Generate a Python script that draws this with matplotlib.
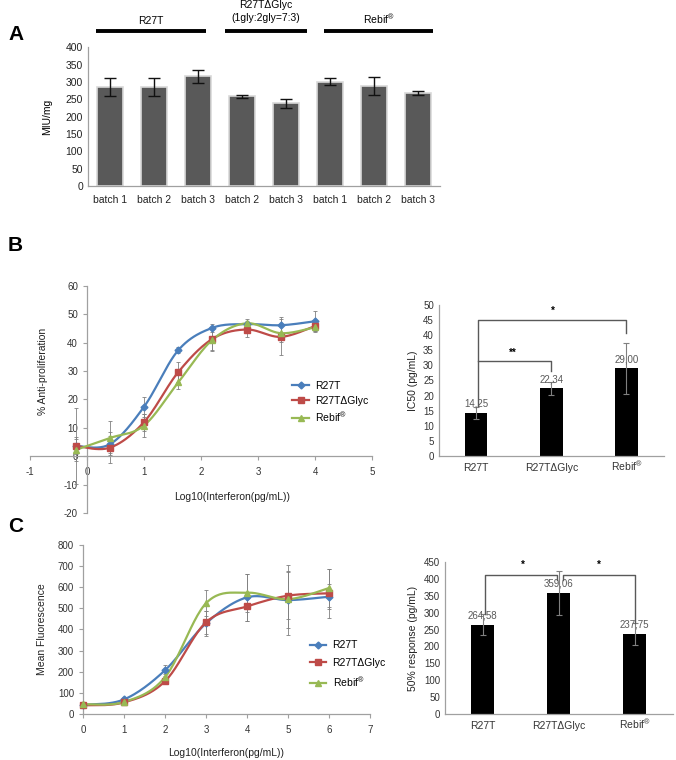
import numpy as np
import matplotlib
matplotlib.use("Agg")
import matplotlib.pyplot as plt
from matplotlib.lines import Line2D
import matplotlib.transforms as mtransforms

plt.rcParams['font.family'] = ['Liberation Sans', 'DejaVu Sans']
plt.rcParams['mathtext.fontset'] = 'custom'
plt.rcParams['mathtext.rm'] = 'Liberation Sans'
plt.rcParams['mathtext.it'] = 'Liberation Sans'
plt.rcParams['axes.unicode_minus'] = False

# ---------------- data ----------------
# Panel A
batch_labels = ["batch 1", "batch 2", "batch 3", "batch 2", "batch 3", "batch 1", "batch 2", "batch 3"]
miu_values = [285, 286, 316, 258, 238, 301, 288, 267]
miu_err = [26, 26, 19, 5, 13, 11, 25, 6]
group_names = ["R27T", "R27T\u0394Glyc\n(1gly:2gly=7:3)", "Rebif$^{\u00ae}$"]

# Panel B (anti-proliferation)
series_names = ["R27T", "R27T\u0394Glyc", "Rebif$^{\u00ae}$"]
b_x = [-0.2, 0.4, 1.0, 1.6, 2.2, 2.8, 3.4, 4.0]
b_r27t = [3.6, 4.2, 17.4, 37.3, 45.2, 46.5, 46.1, 47.5]
b_r27t_err = [3.0, 3.0, 3.5, 1.0, 1.5, 1.0, 3.0, 3.6]
b_glyc = [3.6, 3.0, 12.0, 29.6, 41.3, 44.6, 42.0, 45.8]
b_glyc_err = [13.5, 5.5, 3.0, 3.4, 4.0, 2.6, 6.3, 2.0]
b_rebif = [2.2, 6.4, 10.8, 26.0, 41.0, 46.8, 43.3, 45.4]
b_rebif_err = [4.0, 6.0, 4.0, 2.5, 4.0, 1.5, 3.0, 1.5]

# Panel B right (IC50)
bar_cats = ["R27T", "R27T\u0394Glyc", "Rebif$^{\u00ae}$"]
ic50 = [14.25, 22.34, 29.00]
ic50_err = [2.0, 2.1, 8.5]
ic50_labels = ["14,25", "22,34", "29,00"]

# Panel C (mean fluorescence)
c_x = [0, 1, 2, 3, 4, 5, 6]
c_r27t = [43, 69, 207, 429, 552, 539, 555]
c_r27t_err = [8, 10, 25, 60, 110, 165, 60]
c_glyc = [41, 55, 155, 434, 509, 560, 571]
c_glyc_err = [6, 8, 15, 55, 70, 110, 115]
c_rebif = [46, 57, 174, 524, 574, 543, 596]
c_rebif_err = [6, 8, 15, 62, 90, 135, 90]

# Panel C right (50% response)
resp = [264.58, 359.06, 237.75]
resp_err = [31, 65, 32]
resp_labels = ["264,58", "359,06", "237,75"]

# ---------------- style ----------------
BLUE = "#4a7ebb"
RED = "#be4b48"
GREEN = "#98b954"
SPINE = "#a0a0a0"
TXT = "#333333"
ERR = "#808080"


def smooth(x, y, n=24):
    P = np.column_stack([np.asarray(x, float), np.asarray(y, float)])
    P = np.vstack([P[0], P, P[-1]])
    out = []
    t = np.linspace(0, 1, n, endpoint=False)[:, None]
    for i in range(1, len(P) - 2):
        p0, p1, p2, p3 = P[i - 1], P[i], P[i + 1], P[i + 2]
        seg = 0.5 * ((2 * p1) + (-p0 + p2) * t + (2 * p0 - 5 * p1 + 4 * p2 - p3) * t ** 2
                     + (-p0 + 3 * p1 - 3 * p2 + p3) * t ** 3)
        out.append(seg)
    out.append(P[-2][None, :])
    return np.vstack(out)


def style_axes(ax):
    for s in ["top", "right"]:
        ax.spines[s].set_visible(False)
    for s in ["left", "bottom"]:
        ax.spines[s].set_color(SPINE)
        ax.spines[s].set_linewidth(0.9)
    ax.tick_params(colors=SPINE, labelcolor=TXT, labelsize=7, width=0.8, length=3)


def baseline_xlabels(ax, pad):
    ax.tick_params(axis="x", pad=pad)
    for lbl in ax.get_xticklabels():
        lbl.set_verticalalignment("baseline")


fig = plt.figure(figsize=(6.76, 7.6), dpi=100)

# ---------------- Panel A ----------------
axA = fig.add_axes([0.130, 0.755, 0.521, 0.183])
style_axes(axA)
xa = np.arange(len(miu_values))
axA.bar(xa, miu_values, width=0.6, color="#595959", edgecolor="#d9d9d9", linewidth=1.2, zorder=2)
axA.errorbar(xa, miu_values, yerr=miu_err, fmt="none", ecolor="#111111", elinewidth=1.0,
             capsize=4, capthick=1.0, zorder=3)
axA.set_xlim(-0.5, len(miu_values) - 0.5)
axA.set_ylim(0, 400)
axA.set_yticks(np.arange(0, 401, 50))
axA.set_xticks(xa)
axA.set_xticklabels(batch_labels)
axA.tick_params(axis="x", length=0, pad=6, labelsize=7.5, labelcolor="#222222")
axA.tick_params(axis="y", length=0, labelsize=7.5, labelcolor="#222222")
axA.set_ylabel("MIU/mg", fontsize=7.5, labelpad=10)
trA = mtransforms.blended_transform_factory(axA.transData, axA.transAxes)
group_spans = [(-0.32, 2.18), (2.61, 4.48), (4.86, 7.34)]
group_label_y = [1.19, 1.255, 1.20]
for (x0, x1), name, ly in zip(group_spans, group_names, group_label_y):
    axA.plot([x0, x1], [1.115, 1.115], color="black", lw=2.8, transform=trA, clip_on=False,
             solid_capstyle="butt")
    axA.text((x0 + x1) / 2, ly, name, transform=trA, ha="center", va="center", fontsize=7.5,
             linespacing=1.3)
fig.text(0.012, 0.955, "A", fontsize=15, fontweight="bold", va="center")

# ---------------- Panel B left ----------------
axB = fig.add_axes([0.0444, 0.325, 0.506, 0.299])
style_axes(axB)
axB.spines["left"].set_position(("data", 0))
axB.spines["bottom"].set_position(("data", 0))
axB.set_xlim(-1, 5)
axB.set_ylim(-20, 60)
axB.set_xticks(np.arange(-1, 6, 1))
axB.set_yticks(np.arange(-20, 61, 10))
axB.tick_params(axis="x", pad=5)
for yv, ye, col, mk, ms in [(b_r27t, b_r27t_err, BLUE, "D", 3.5),
                            (b_glyc, b_glyc_err, RED, "s", 5),
                            (b_rebif, b_rebif_err, GREEN, "^", 5)]:
    axB.errorbar(b_x, yv, yerr=ye, fmt="none", ecolor=ERR, elinewidth=0.6, capsize=1.5,
                 capthick=0.6, zorder=2)
    cv = smooth(b_x, yv)
    axB.plot(cv[:, 0], cv[:, 1], color=col, lw=1.6, zorder=3)
    axB.plot(b_x, yv, ls="none", marker=mk, ms=ms, color=col, zorder=4)
axB.text(2.54, -14.5, "Log10(Interferon(pg/mL))", fontsize=7.5, color="#222222", ha="center",
         va="center", transform=axB.transData)
axB.text(-0.78, 30, "% Anti-proliferation", rotation=90, fontsize=7.5, color="#222222",
         ha="center", va="center")
handles = [Line2D([], [], color=BLUE, marker="D", ms=3.5, lw=1.6),
           Line2D([], [], color=RED, marker="s", ms=5, lw=1.6),
           Line2D([], [], color=GREEN, marker="^", ms=5, lw=1.6)]
axB.legend(handles, series_names, loc="upper left", bbox_to_anchor=(0.755, 0.60), frameon=False,
           fontsize=7.5, handlelength=1.6, handletextpad=0.6, labelspacing=0.45, borderaxespad=0)
fig.text(0.012, 0.677, "B", fontsize=15, fontweight="bold", va="center")

# ---------------- Panel B right ----------------
axB2 = fig.add_axes([0.649, 0.400, 0.333, 0.199])
style_axes(axB2)
xb = np.arange(len(ic50))
axB2.bar(xb, ic50, width=0.3, color="black", zorder=2)
axB2.errorbar(xb, ic50, yerr=ic50_err, fmt="none", ecolor=ERR, elinewidth=0.8, capsize=2,
              capthick=0.8, zorder=3)
axB2.set_xlim(-0.5, 2.5)
axB2.set_ylim(0, 50)
axB2.set_yticks(np.arange(0, 51, 5))
axB2.set_xticks(xb)
axB2.set_xticklabels(bar_cats)
axB2.tick_params(axis="x", length=0, labelsize=7.5)
baseline_xlabels(axB2, 10.5)
axB2.tick_params(axis="y", length=0)
axB2.set_ylabel("IC50 (pg/mL)", fontsize=7.5, color="#222222", labelpad=4)
for xi, lab, yl in zip(xb, ic50_labels, [17.4, 25.2, 32.0]):
    axB2.text(xi, yl, lab, ha="center", va="center", fontsize=7, color="#595959")
bk = "#595959"
axB2.plot([0.02, 0.02, 2.0, 2.0], [16.5, 45, 45, 40.5], color=bk, lw=1.0, zorder=4)
axB2.plot([0.02, 1.0, 1.0], [31.5, 31.5, 28.0], color=bk, lw=1.0, zorder=4)
axB2.text(1.02, 48.0, "*", ha="center", va="center", fontsize=7, fontweight="bold")
axB2.text(0.49, 34.0, "**", ha="center", va="center", fontsize=7, fontweight="bold")

# ---------------- Panel C left ----------------
axC = fig.add_axes([0.1228, 0.0605, 0.4246, 0.2225])
style_axes(axC)
axC.set_xlim(0, 7)
axC.set_ylim(0, 800)
axC.set_xticks(np.arange(0, 8, 1))
axC.set_yticks(np.arange(0, 801, 100))
axC.tick_params(axis="x", pad=5)
for yv, ye, col, mk, ms in [(c_r27t, c_r27t_err, BLUE, "D", 3.5),
                            (c_glyc, c_glyc_err, RED, "s", 5),
                            (c_rebif, c_rebif_err, GREEN, "^", 5)]:
    axC.errorbar(c_x, yv, yerr=ye, fmt="none", ecolor=ERR, elinewidth=0.6, capsize=1.5,
                 capthick=0.6, zorder=2)
    cv = smooth(c_x, yv)
    axC.plot(cv[:, 0], cv[:, 1], color=col, lw=1.6, zorder=3, clip_on=False)
    axC.plot(c_x, yv, ls="none", marker=mk, ms=ms, color=col, zorder=4, clip_on=False)
axC.set_xlabel("Log10(Interferon(pg/mL))", fontsize=7.5, color="#222222", labelpad=9)
axC.set_ylabel("Mean Fluorescence", fontsize=7.5, color="#222222", labelpad=8)
axC.legend(handles, series_names, loc="upper left", bbox_to_anchor=(0.775, 0.46), frameon=False,
           fontsize=7.5, handlelength=1.6, handletextpad=0.6, labelspacing=0.7, borderaxespad=0)
fig.text(0.012, 0.307, "C", fontsize=15, fontweight="bold", va="center")

# ---------------- Panel C right ----------------
axC2 = fig.add_axes([0.658, 0.0605, 0.337, 0.200])
style_axes(axC2)
xc = np.arange(len(resp))
axC2.bar(xc, resp, width=0.3, color="black", zorder=2)
axC2.errorbar(xc, resp, yerr=resp_err, fmt="none", ecolor=ERR, elinewidth=0.8, capsize=2,
              capthick=0.8, zorder=3)
axC2.set_xlim(-0.5, 2.5)
axC2.set_ylim(0, 450)
axC2.set_yticks(np.arange(0, 451, 50))
axC2.set_xticks(xc)
axC2.set_xticklabels(bar_cats)
axC2.tick_params(axis="x", length=0, labelsize=7.5)
baseline_xlabels(axC2, 10.5)
axC2.tick_params(axis="y", length=0)
axC2.set_ylabel("50% response (pg/mL)", fontsize=7.5, color="#222222", labelpad=4)
for xi, lab, yl in zip(xc, resp_labels, [293, 386, 265]):
    axC2.text(xi, yl, lab, ha="center", va="center", fontsize=7, color="#595959")
axC2.plot([0.03, 0.03, 0.98, 0.98], [296, 412, 412, 396], color=bk, lw=1.0, zorder=4)
axC2.plot([1.05, 1.05, 2.0, 2.0], [396, 412, 412, 268], color=bk, lw=1.0, zorder=4)
axC2.text(0.53, 442, "*", ha="center", va="center", fontsize=7, fontweight="bold")
axC2.text(1.53, 442, "*", ha="center", va="center", fontsize=7, fontweight="bold")

fig.savefig("out.png", dpi=100)
